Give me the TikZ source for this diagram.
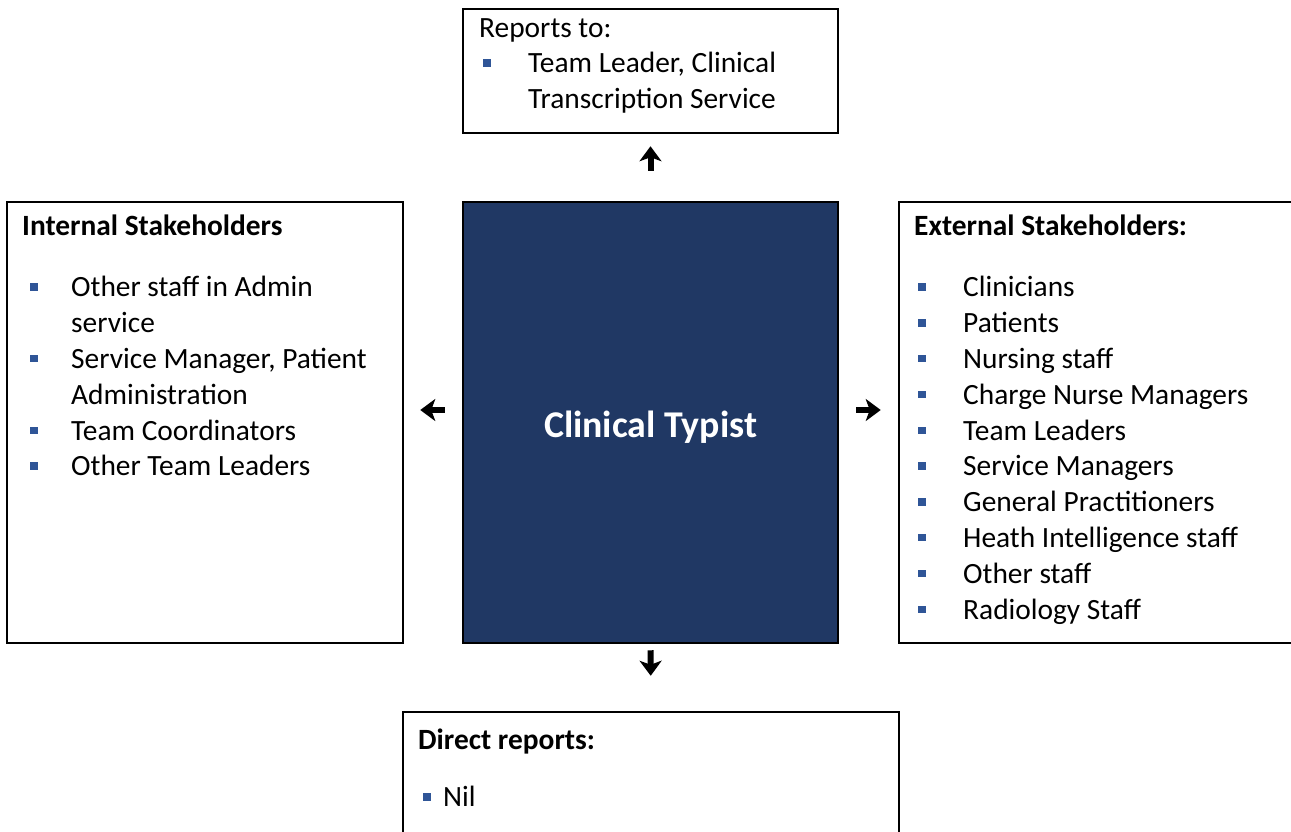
\documentclass[tikz,border=0pt]{standalone}
\usepackage{fontspec}
\setmainfont{Carlito}
\usetikzlibrary{arrows.meta}
\definecolor{typistblue}{HTML}{203864}
\definecolor{bulletblue}{HTML}{2F5597}
% square bullet: indent, then box width up to the item text
\newcommand\bul[2]{\hspace*{#1}\makebox[#2][l]{\textcolor{bulletblue}{\rule[6pt]{7.5pt}{7.5pt}}}}

\begin{document}
\begin{tikzpicture}[x=1pt,y=-1pt,
  box/.style={draw, line width=2.5pt, rectangle, inner sep=0pt},
  list/.style={anchor=base west, inner sep=0pt, align=left, font=\fontsize{29.4}{35.8}\selectfont},
  link/.style={line width=6pt, -{Stealth[length=15pt,width=22pt,inset=4pt]}}]
\useasboundingbox[fill=white] (0,0) rectangle (1291,831);

% boxes
\node[box, minimum width=375pt, minimum height=124pt] (reports) at (650.5,71) {};
\node[box, fill=typistblue, text=white, font=\fontsize{37.8}{45}\selectfont\bfseries,
  minimum width=375pt, minimum height=441pt] (typist) at (650.5,422.5) {\raisebox{-14.5pt}[0pt][0pt]{Clinical Typist}};
\node[box, minimum width=396pt, minimum height=441pt] (internal) at (205,422.5) {};
\node[box, minimum width=461pt, minimum height=441pt] (external) at (1129.5,422.5) {};
\node[box, minimum width=496pt, minimum height=188pt] (direct) at (651,806) {};

% text (placed by the baseline of the last line)
\node[list] (reports-text) at (479,108.6) {Reports to:\\
  \bul{4pt}{45pt}Team Leader, Clinical\\
  \hspace*{49pt}Transcription Service};
\node[list] (internal-text) at (22,475.8) {\textbf{Internal Stakeholders}\\[26pt]
  \bul{8pt}{41pt}Other staff in Admin\\
  \hspace*{49pt}service\\
  \bul{8pt}{41pt}Service Manager, Patient\\
  \hspace*{49pt}Administration\\
  \bul{8pt}{41pt}Team Coordinators\\
  \bul{8pt}{41pt}Other Team Leaders};
\node[list] (external-text) at (914,619) {\textbf{External Stakeholders:}\\[26pt]
  \bul{4pt}{45pt}Clinicians\\
  \bul{4pt}{45pt}Patients\\
  \bul{4pt}{45pt}Nursing staff\\
  \bul{4pt}{45pt}Charge Nurse Managers\\
  \bul{4pt}{45pt}Team Leaders\\
  \bul{4pt}{45pt}Service Managers\\
  \bul{4pt}{45pt}General Practitioners\\
  \bul{4pt}{45pt}Heath Intelligence staff\\
  \bul{4pt}{45pt}Other staff\\
  \bul{4pt}{45pt}Radiology Staff};
\node[list] (direct-text) at (418,806.8) {\textbf{Direct reports:}\\[22pt]
  \bul{5pt}{20pt}Nil};

% arrows
\draw[link, shorten <=30pt, shorten >=12pt] (typist.north) -- (reports.south);
\draw[link, shorten <=6pt, shorten >=35pt] (typist.south) -- (direct.north);
\draw[link, shorten <=17pt, shorten >=16pt] ([yshift=12.5pt]typist.west) -- ([yshift=12.5pt]internal.east);
\draw[link, shorten <=17pt, shorten >=17pt] ([yshift=12.5pt]typist.east) -- ([yshift=12.5pt]external.west);
\end{tikzpicture}
\end{document}
